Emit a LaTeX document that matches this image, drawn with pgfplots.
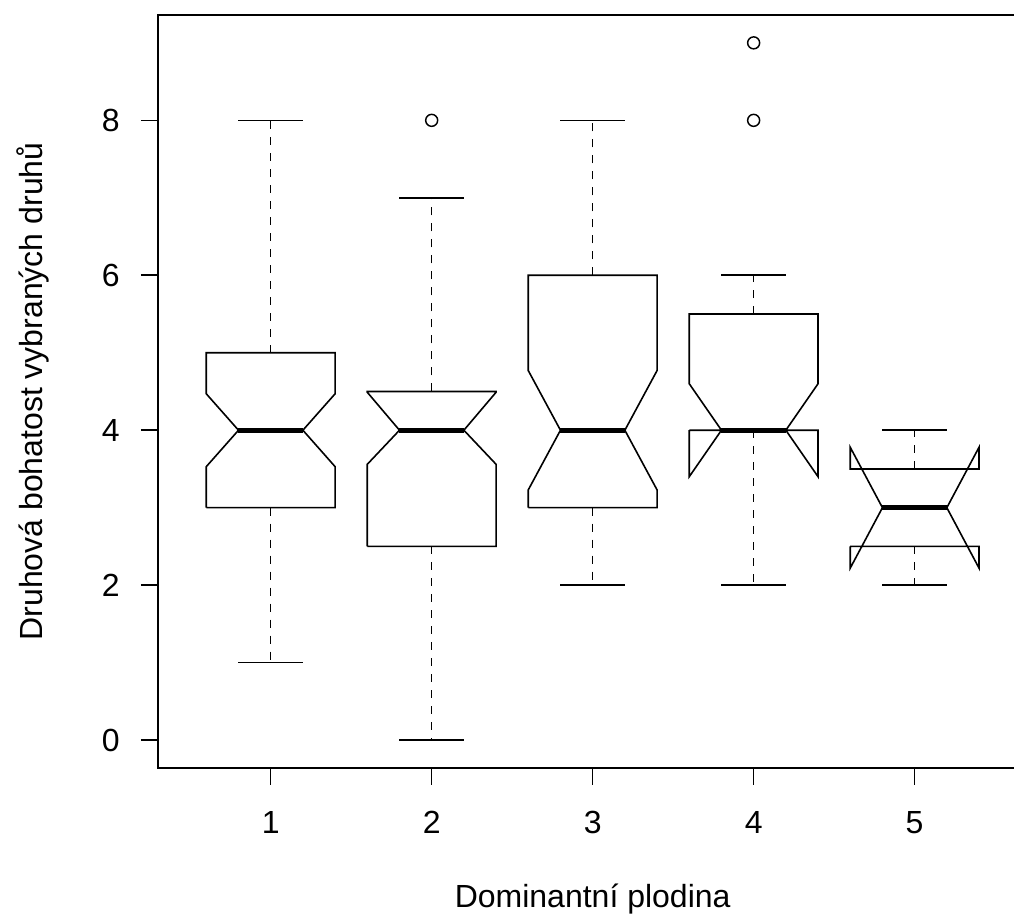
\documentclass[border=0pt]{standalone}
\usepackage{pgfplots}
\pgfplotsset{compat=1.18}
\usepackage{fontspec}
\setmainfont{Liberation Sans}
\begin{document}
\begin{tikzpicture}
\useasboundingbox (-118.5pt,-113.25pt) rectangle (642pt,576pt);
\clip (-118.5pt,-113.25pt) rectangle (642pt,576pt);
\begin{axis}[
  scale only axis, width=652pt, height=564.75pt,
  xmin=0.3, xmax=5.7, ymin=-0.36, ymax=9.36,
  axis line style={line width=1.2pt},
  xtick={1,2,3,4,5}, ytick={0,2,4,6,8},
  tick align=outside, tick pos=left,
  major tick length=12.75pt,
  tick style={line width=1.2pt, black},
  font=\fontsize{24}{28}\selectfont,
  /pgf/number format/assume math mode=true,
  xticklabel style={inner sep=0pt, yshift=-19.5pt},
  yticklabel style={inner sep=0pt, xshift=-15.75pt},
  xlabel={Dominantní plodina},
  ylabel={Druhová bohatost vybraných druhů},
  xlabel style={at={(axis description cs:0.5,-0.1846)}, anchor=base, inner sep=0pt},
  ylabel style={at={(axis description cs:-0.1334,0.5)}, anchor=base, inner sep=0pt},
  every axis plot/.append style={black, line width=1.2pt, forget plot},
]
% boxes (notched polygons)
\addplot[sharp plot] coordinates {(0.6,3) (1.4,3) (1.4,3.53) (1.2,4) (1.4,4.47) (1.4,5) (0.6,5) (0.6,4.47) (0.8,4) (0.6,3.53) (0.6,3)};
\addplot[sharp plot] coordinates {(1.6,2.5) (2.4,2.5) (2.4,3.56) (2.2,4) (2.4,4.49) (2.4,4.5) (1.6,4.5) (1.6,4.49) (1.8,4) (1.6,3.56) (1.6,2.5)};
\addplot[sharp plot] coordinates {(2.6,3) (3.4,3) (3.4,3.23) (3.2,4) (3.4,4.77) (3.4,6) (2.6,6) (2.6,4.77) (2.8,4) (2.6,3.23) (2.6,3)};
\addplot[sharp plot] coordinates {(3.6,4) (4.4,4) (4.4,3.4) (4.2,4) (4.4,4.6) (4.4,5.5) (3.6,5.5) (3.6,4.6) (3.8,4) (3.6,3.4) (3.6,4)};
\addplot[sharp plot] coordinates {(4.6,2.5) (5.4,2.5) (5.4,2.22) (5.2,3) (5.4,3.78) (5.4,3.5) (4.6,3.5) (4.6,3.78) (4.8,3) (4.6,2.22) (4.6,2.5)};
% whiskers (dashed)
\addplot[dash pattern=on 6pt off 6pt] coordinates {(1,3) (1,1)};
\addplot[dash pattern=on 6pt off 6pt] coordinates {(1,5) (1,8)};
\addplot[dash pattern=on 6pt off 6pt] coordinates {(2,2.5) (2,0)};
\addplot[dash pattern=on 6pt off 6pt] coordinates {(2,4.5) (2,7)};
\addplot[dash pattern=on 6pt off 6pt] coordinates {(3,3) (3,2)};
\addplot[dash pattern=on 6pt off 6pt] coordinates {(3,6) (3,8)};
\addplot[dash pattern=on 6pt off 6pt] coordinates {(4,4) (4,2)};
\addplot[dash pattern=on 6pt off 6pt] coordinates {(4,5.5) (4,6)};
\addplot[dash pattern=on 6pt off 6pt] coordinates {(5,2.5) (5,2)};
\addplot[dash pattern=on 6pt off 6pt] coordinates {(5,3.5) (5,4)};
% staples
\addplot[] coordinates {(0.8,1) (1.2,1)};
\addplot[] coordinates {(0.8,8) (1.2,8)};
\addplot[] coordinates {(1.8,0) (2.2,0)};
\addplot[] coordinates {(1.8,7) (2.2,7)};
\addplot[] coordinates {(2.8,2) (3.2,2)};
\addplot[] coordinates {(2.8,8) (3.2,8)};
\addplot[] coordinates {(3.8,2) (4.2,2)};
\addplot[] coordinates {(3.8,6) (4.2,6)};
\addplot[] coordinates {(4.8,2) (5.2,2)};
\addplot[] coordinates {(4.8,4) (5.2,4)};
% medians
\addplot[line width=3.8pt] coordinates {(0.8,4) (1.2,4)};
\addplot[line width=3.8pt] coordinates {(1.8,4) (2.2,4)};
\addplot[line width=3.8pt] coordinates {(2.8,4) (3.2,4)};
\addplot[line width=3.8pt] coordinates {(3.8,4) (4.2,4)};
\addplot[line width=3.8pt] coordinates {(4.8,3) (5.2,3)};
% outliers
\addplot[only marks, mark=o, mark size=4.5pt, line width=1.1pt] coordinates {(2,8) (4,8) (4,9)};
\end{axis}
\end{tikzpicture}
\end{document}
